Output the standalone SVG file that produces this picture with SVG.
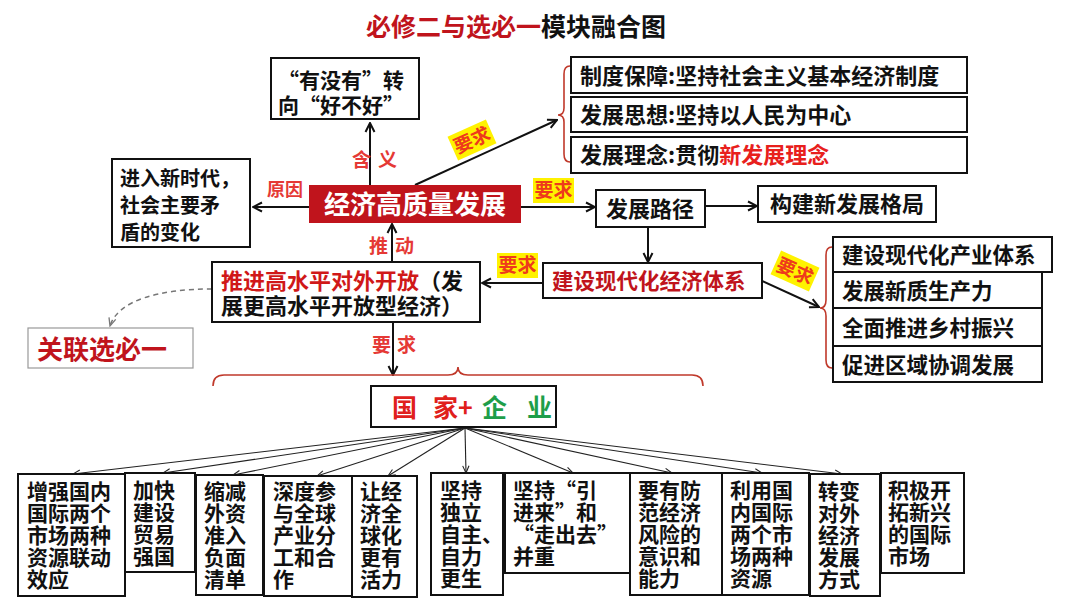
<svg xmlns="http://www.w3.org/2000/svg" width="1080" height="608" viewBox="0 0 1080 608">
<style>
text{font-family:"Noto Sans CJK SC","Noto Sans CJK JP",sans-serif;font-weight:bold;fill:#111}
.box{fill:#fff;stroke:#111;stroke-width:2}
.dark{fill:#c0141c}
.lab{fill:#e53935}
.hl{fill:#fff200}
.hlt{fill:#ee3a1c;font-size:19px}
.conn{stroke:#111;stroke-width:2;fill:none}
.fan{stroke:#222;stroke-width:1.1;fill:none}
.brace{stroke:#c0392b;stroke-width:1.6;fill:none}
.bt{font-size:21px}
</style>
<defs>
<marker id="ah" viewBox="0 0 12 12" refX="11" refY="6" markerWidth="12" markerHeight="12" markerUnits="userSpaceOnUse" orient="auto">
<path d="M2,1.5 L11,6 L2,10.5" fill="none" stroke="#111" stroke-width="2"/>
</marker>
<marker id="ahs" viewBox="0 0 10 10" refX="9" refY="5" markerWidth="9" markerHeight="9" markerUnits="userSpaceOnUse" orient="auto">
<path d="M1,1.5 L9,5 L1,8.5" fill="none" stroke="#222" stroke-width="1.2"/>
</marker>
<marker id="ahd" viewBox="0 0 10 10" refX="9" refY="5" markerWidth="10" markerHeight="10" markerUnits="userSpaceOnUse" orient="auto">
<path d="M1,1.5 L9,5 L1,8.5" fill="none" stroke="#777" stroke-width="1.3"/>
</marker>
</defs>

<rect width="1080" height="608" fill="#fff"/>

<text x="516" y="36" text-anchor="middle" font-size="25"><tspan class="dark">必修二与选必一</tspan><tspan>模块融合图</tspan></text>

<g id="connectors">
<line class="conn" x1="370" y1="185" x2="370" y2="123" marker-end="url(#ah)"/>
<line class="conn" x1="309" y1="207" x2="253" y2="207" marker-end="url(#ah)"/>
<line class="conn" x1="415" y1="185" x2="557" y2="120" marker-end="url(#ah)"/>
<line class="conn" x1="521" y1="207" x2="595" y2="207" marker-end="url(#ah)"/>
<line class="conn" x1="705" y1="206" x2="757" y2="206" marker-end="url(#ah)"/>
<line class="conn" x1="648" y1="227" x2="648" y2="262" marker-end="url(#ah)"/>
<line class="conn" x1="543" y1="283" x2="482" y2="283" marker-end="url(#ah)"/>
<line class="conn" x1="762" y1="281" x2="819" y2="307" marker-end="url(#ah)"/>
<line class="conn" x1="392" y1="262" x2="392" y2="224" marker-end="url(#ah)"/>
<line class="conn" x1="393" y1="322" x2="393" y2="375" marker-end="url(#ah)"/>
<path d="M212,289 C160,289 118,300 110,326" stroke="#777" stroke-width="1.5" stroke-dasharray="5,4" fill="none" marker-end="url(#ahd)"/>
<path class="brace" d="M570,66 Q564,66 564,74 L564,108 Q564,115 558,115 Q564,115 564,122 L564,154 Q564,162 570,162"/>
<path class="brace" d="M832,247 Q826,247 826,255 L826,300 Q826,308 820,308 Q826,308 826,316 L826,360 Q826,368 832,368"/>
<path class="brace" d="M213,386 Q213,375 224,375 L448,375 Q458,375 458,367 Q458,375 468,375 L692,375 Q703,375 703,386"/>
<g id="fan">
<line class="fan" x1="465" y1="428" x2="73" y2="474" marker-end="url(#ahs)"/>
<line class="fan" x1="465" y1="428" x2="163" y2="473" marker-end="url(#ahs)"/>
<line class="fan" x1="465" y1="428" x2="233" y2="475" marker-end="url(#ahs)"/>
<line class="fan" x1="465" y1="428" x2="317" y2="476" marker-end="url(#ahs)"/>
<line class="fan" x1="465" y1="428" x2="388" y2="476" marker-end="url(#ahs)"/>
<line class="fan" x1="465" y1="428" x2="466" y2="473" marker-end="url(#ahs)"/>
<line class="fan" x1="465" y1="428" x2="573" y2="473" marker-end="url(#ahs)"/>
<line class="fan" x1="465" y1="428" x2="672" y2="473" marker-end="url(#ahs)"/>
<line class="fan" x1="465" y1="428" x2="762" y2="473" marker-end="url(#ahs)"/>
<line class="fan" x1="465" y1="428" x2="842" y2="474" marker-end="url(#ahs)"/>
</g>
</g>

<g id="labels">
<text class="lab" x="352" y="167" font-size="19">含</text>
<text class="lab" x="378" y="167" font-size="19">义</text>
<text class="lab" x="267" y="196" font-size="18">原因</text>
<text class="lab" x="369" y="253" font-size="19">推</text>
<text class="lab" x="395" y="253" font-size="19">动</text>
<text class="lab" x="372" y="352" font-size="19">要</text>
<text class="lab" x="397" y="352" font-size="19">求</text>
<rect class="hl" x="533" y="178" width="41" height="25"/>
<text class="hlt" x="553.5" y="197" text-anchor="middle">要求</text>
<rect class="hl" x="497" y="253" width="41" height="25"/>
<text class="hlt" x="517.5" y="272" text-anchor="middle">要求</text>
<g transform="translate(472,140) rotate(-24)">
<rect class="hl" x="-21" y="-13" width="42" height="26"/>
<text class="hlt" x="0" y="7" text-anchor="middle">要求</text>
</g>
<g transform="translate(795,271) rotate(24)">
<rect class="hl" x="-21" y="-13" width="42" height="26"/>
<text class="hlt" x="0" y="7" text-anchor="middle">要求</text>
</g>
</g>

<g id="n-youmeiyou">
<rect class="box" x="271" y="58" width="148" height="61"/>
<text x="278" y="88" font-size="21">“有没有”转</text>
<text x="278" y="113" font-size="21">向“好不好”</text>
</g>

<g id="n-reason">
<rect class="box" x="112" y="159" width="138" height="88"/>
<text x="120" y="186" font-size="20">进入新时代，</text>
<text x="120" y="213" font-size="20">社会主要矛</text>
<text x="120" y="240" font-size="20">盾的变化</text>
</g>

<g id="n-center">
<rect x="309" y="185" width="212" height="38" fill="#c0141c"/>
<text x="415" y="214" font-size="26" text-anchor="middle" fill="#fff" style="fill:#fff">经济高质量发展</text>
</g>

<g id="n-zhidu">
<rect class="box" x="571" y="57" width="396" height="36"/>
<text x="580" y="84" font-size="22">制度保障:坚持社会主义基本经济制度</text>
</g>
<g id="n-sixiang">
<rect class="box" x="571" y="97" width="396" height="35"/>
<text x="580" y="123" font-size="22">发展思想:坚持以人民为中心</text>
</g>
<g id="n-linian">
<rect class="box" x="571" y="137" width="396" height="36"/>
<text x="580" y="163" font-size="22">发展理念:贯彻<tspan fill="#e8201c">新发展理念</tspan></text>
</g>

<g id="n-lujing">
<rect class="box" x="596" y="190" width="109" height="37"/>
<text x="650" y="217" font-size="22" text-anchor="middle">发展路径</text>
</g>
<g id="n-geju">
<rect class="box" x="758" y="186" width="178" height="36"/>
<text x="847" y="212" font-size="22" text-anchor="middle">构建新发展格局</text>
</g>

<g id="n-tixi">
<rect class="box" x="543" y="263" width="219" height="35"/>
<text class="dark" x="552" y="289" font-size="21.5">建设现代化经济体系</text>
</g>

<g id="n-r1"><rect class="box" x="833" y="237" width="219" height="35"/><text x="842" y="263" font-size="21.5">建设现代化产业体系</text></g>
<g id="n-r2"><rect class="box" x="833" y="272" width="209" height="36"/><text x="842" y="299" font-size="21.5">发展新质生产力</text></g>
<g id="n-r3"><rect class="box" x="833" y="308" width="209" height="38"/><text x="842" y="336" font-size="21.5">全面推进乡村振兴</text></g>
<g id="n-r4"><rect class="box" x="833" y="346" width="209" height="36"/><text x="842" y="373" font-size="21.5">促进区域协调发展</text></g>

<g id="n-kaifang">
<rect class="box" x="212" y="262" width="268" height="60"/>
<text x="221" y="289" font-size="22"><tspan class="dark" style="fill:#d01818">推进高水平对外开放</tspan>（发</text>
<text x="221" y="314" font-size="22">展更高水平开放型经济）</text>
</g>

<g id="n-guanlian">
<rect x="28" y="328" width="165" height="40" fill="#fff" stroke="#999" stroke-width="1.2"/>
<text class="dark" x="37" y="359" font-size="26">关联选必一</text>
</g>

<g id="n-guojia">
<rect class="box" x="371" y="386" width="185" height="41"/>
<text font-size="25" y="417"><tspan x="392" fill="#e0201c">国</tspan><tspan x="433" fill="#e0201c">家+</tspan><tspan x="482" fill="#1e9e4a">企</tspan><tspan x="527" fill="#1e9e4a">业</tspan></text>
</g>

<g id="b1"><rect class="box" x="18" y="474" width="107" height="122"/>
<text class="bt"><tspan x="27" y="499">增强国内</tspan><tspan x="27" y="521">国际两个</tspan><tspan x="27" y="543">市场两种</tspan><tspan x="27" y="565">资源联动</tspan><tspan x="27" y="587">效应</tspan></text></g>
<g id="b2"><rect class="box" x="125" y="473" width="70" height="99"/>
<text class="bt"><tspan x="133" y="498">加快</tspan><tspan x="133" y="520">建设</tspan><tspan x="133" y="542">贸易</tspan><tspan x="133" y="564">强国</tspan></text></g>
<g id="b3"><rect class="box" x="196" y="475" width="67" height="120"/>
<text class="bt"><tspan x="204" y="499">缩减</tspan><tspan x="204" y="521">外资</tspan><tspan x="204" y="543">准入</tspan><tspan x="204" y="565">负面</tspan><tspan x="204" y="587">清单</tspan></text></g>
<g id="b4"><rect class="box" x="264" y="476" width="88" height="120"/>
<text class="bt"><tspan x="273" y="499">深度参</tspan><tspan x="273" y="521">与全球</tspan><tspan x="273" y="543">产业分</tspan><tspan x="273" y="565">工和合</tspan><tspan x="273" y="587">作</tspan></text></g>
<g id="b5"><rect class="box" x="352" y="476" width="65" height="121"/>
<text class="bt"><tspan x="360" y="499">让经</tspan><tspan x="360" y="521">济全</tspan><tspan x="360" y="543">球化</tspan><tspan x="360" y="565">更有</tspan><tspan x="360" y="587">活力</tspan></text></g>
<g id="b6"><rect class="box" x="431" y="473" width="72" height="122"/>
<text class="bt"><tspan x="440" y="498">坚持</tspan><tspan x="440" y="520">独立</tspan><tspan x="440" y="542">自主、</tspan><tspan x="440" y="564">自力</tspan><tspan x="440" y="586">更生</tspan></text></g>
<g id="b7"><rect class="box" x="505" y="473" width="125" height="100"/>
<text class="bt"><tspan x="513" y="498">坚持“引</tspan><tspan x="513" y="520">进来”和</tspan><tspan x="513" y="542">“走出去”</tspan><tspan x="513" y="564">并重</tspan></text></g>
<g id="b8"><rect class="box" x="630" y="473" width="92" height="122"/>
<text class="bt"><tspan x="638" y="498">要有防</tspan><tspan x="638" y="520">范经济</tspan><tspan x="638" y="542">风险的</tspan><tspan x="638" y="564">意识和</tspan><tspan x="638" y="586">能力</tspan></text></g>
<g id="b9"><rect class="box" x="722" y="473" width="87" height="122"/>
<text class="bt"><tspan x="730" y="498">利用国</tspan><tspan x="730" y="520">内国际</tspan><tspan x="730" y="542">两个市</tspan><tspan x="730" y="564">场两种</tspan><tspan x="730" y="586">资源</tspan></text></g>
<g id="b10"><rect class="box" x="810" y="474" width="70" height="122"/>
<text class="bt"><tspan x="818" y="499">转变</tspan><tspan x="818" y="521">对外</tspan><tspan x="818" y="543">经济</tspan><tspan x="818" y="565">发展</tspan><tspan x="818" y="587">方式</tspan></text></g>
<g id="b11"><rect class="box" x="881" y="473" width="83" height="100"/>
<text class="bt"><tspan x="888" y="498">积极开</tspan><tspan x="888" y="520">拓新兴</tspan><tspan x="888" y="542">的国际</tspan><tspan x="888" y="564">市场</tspan></text></g>
</svg>
